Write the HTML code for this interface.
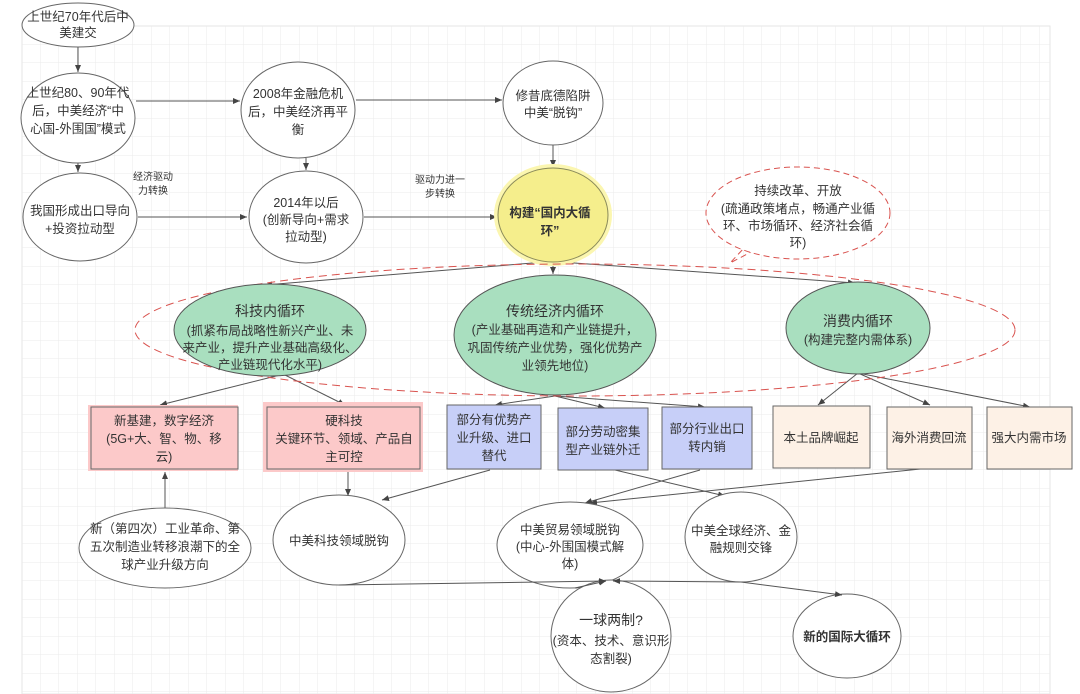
<!DOCTYPE html>
<html><head><meta charset="utf-8"><style>
html,body{margin:0;padding:0;background:#fff}
svg{display:block}
text{font-family:"Liberation Sans","Noto Sans CJK SC",sans-serif;font-size:12.5px;fill:#333;text-anchor:middle}
.s{font-size:10px}
.b{font-weight:bold}
.big{font-size:14px}
</style></head><body>
<svg width="1080" height="694" viewBox="0 0 1080 694" xmlns="http://www.w3.org/2000/svg">
<defs>
<pattern id="g" x="22" y="26" width="18.5" height="18.5" patternUnits="userSpaceOnUse">
<path d="M18.5 0V18.5M0 18.5H18.5" stroke="#ebebeb" stroke-width="1" fill="none"/>
</pattern>
<marker id="a" markerWidth="8" markerHeight="8" refX="7" refY="4" orient="auto" markerUnits="userSpaceOnUse">
<path d="M0,1 L7,4 L0,7 Z" fill="#444"/>
</marker>
</defs>
<rect x="22" y="26" width="1028" height="668" fill="url(#g)" stroke="#e6e6e6"/>

<g stroke="#555" stroke-width="1" fill="none" marker-end="url(#a)">
<path d="M78 47V72"/>
<path d="M136 101H240"/>
<path d="M356 100H502"/>
<path d="M78 163V172"/>
<path d="M306 158V170"/>
<path d="M553 145V167"/>
<path d="M138 217H247"/>
<path d="M364 217H497"/>
<path d="M553 262V274"/>
<path d="M545 262L265 285"/>
<path d="M560 262L855 283"/>
<path d="M280 375L160 405"/>
<path d="M285 375L345 405"/>
<path d="M555 396L495 405"/>
<path d="M555 396L605 408"/>
<path d="M555 396L705 407"/>
<path d="M858 373L818 405"/>
<path d="M858 373L930 405"/>
<path d="M858 373L1030 407"/>
<path d="M165 508V472"/>
<path d="M348 470V496"/>
<path d="M490 470L382 500"/>
<path d="M615 470L725 496"/>
<path d="M700 470L585 503"/>
<path d="M930 468L590 503"/>
</g>

<!-- top ellipses -->
<g fill="#fff" stroke="#666" stroke-width="1">
<ellipse cx="78" cy="25" rx="56" ry="22"/>
<ellipse cx="78" cy="118" rx="57" ry="45"/>
<ellipse cx="298" cy="110" rx="57" ry="48"/>
<ellipse cx="553" cy="103" rx="50" ry="42"/>
<ellipse cx="80" cy="217" rx="57" ry="44"/>
<ellipse cx="306" cy="217" rx="57" ry="46"/>
</g>
<ellipse cx="553" cy="215" rx="59" ry="51" fill="#fbf6b0"/>
<ellipse cx="553" cy="215" rx="55" ry="47" fill="#f5ee8c" stroke="#8a8a5a"/>

<text x="78" y="21">上世纪70年代后中</text><text x="78" y="37">美建交</text>
<text x="78" y="97">上世纪80、90年代</text><text x="78" y="115">后，中美经济“中</text><text x="78" y="133">心国-外围国”模式</text>
<text x="298" y="98">2008年金融危机</text><text x="298" y="116">后，中美经济再平</text><text x="298" y="134">衡</text>
<text x="553" y="100">修昔底德陷阱</text><text x="553" y="117">中美“脱钩”</text>
<text x="80" y="215">我国形成出口导向</text><text x="80" y="233">+投资拉动型</text>
<text x="306" y="207">2014年以后</text><text x="306" y="224">(创新导向+需求</text><text x="306" y="241">拉动型)</text>
<text x="550" y="217" class="b">构建“国内大循</text><text x="550" y="235" class="b">环”</text>
<text class="s" x="153" y="180">经济驱动</text><text class="s" x="153" y="194">力转换</text>
<text class="s" x="440" y="183">驱动力进一</text><text class="s" x="440" y="197">步转换</text>

<!-- callout -->
<path d="M755 250 L730 263 L745 247" fill="none" stroke="#d9534f" stroke-dasharray="6,4"/>
<ellipse cx="798" cy="213" rx="92" ry="46" fill="#fff" stroke="#d9534f" stroke-dasharray="6,4"/>
<text x="798" y="195">持续改革、开放</text><text x="798" y="213">(疏通政策堵点，畅通产业循</text><text x="798" y="230">环、市场循环、经济社会循</text><text x="798" y="247">环)</text>

<!-- big dashed ellipse -->
<ellipse cx="575" cy="330" rx="440" ry="66" fill="none" stroke="#d9534f" stroke-dasharray="8,5"/>

<!-- green -->
<g fill="#a9dfbf" stroke="#555">
<ellipse cx="270" cy="330" rx="96" ry="46"/>
<ellipse cx="555" cy="335" rx="101" ry="60"/>
<ellipse cx="858" cy="328" rx="72" ry="46"/>
</g>
<text x="270" y="316" class="big">科技内循环</text><text x="270" y="335">(抓紧布局战略性新兴产业、未</text><text x="270" y="352">来产业，提升产业基础高级化、</text><text x="270" y="369">产业链现代化水平)</text>
<text x="555" y="316" class="big">传统经济内循环</text><text x="555" y="334">(产业基础再造和产业链提升，</text><text x="555" y="352">巩固传统产业优势，强化优势产</text><text x="555" y="370">业领先地位)</text>
<text x="858" y="326" class="big">消费内循环</text><text x="858" y="344">(构建完整内需体系)</text>

<!-- boxes -->
<rect x="88" y="405" width="150" height="66" fill="#fcc9c9"/>
<rect x="91" y="407" width="147" height="62" fill="none" stroke="#666"/>
<rect x="263" y="402" width="160" height="70" fill="#fcc9c9"/>
<rect x="267" y="407" width="153" height="62" fill="none" stroke="#666"/>
<rect x="447" y="405" width="94" height="64" fill="#c7cff8" stroke="#666"/>
<rect x="558" y="408" width="90" height="62" fill="#c7cff8" stroke="#666"/>
<rect x="662" y="407" width="90" height="62" fill="#c7cff8" stroke="#666"/>
<rect x="773" y="406" width="97" height="62" fill="#fdf1e6" stroke="#666"/>
<rect x="887" y="407" width="85" height="62" fill="#fdf1e6" stroke="#666"/>
<rect x="987" y="407" width="85" height="62" fill="#fdf1e6" stroke="#666"/>
<text x="164" y="425">新基建，数字经济</text><text x="164" y="443">(5G+大、智、物、移</text><text x="164" y="461">云)</text>
<text x="344" y="425">硬科技</text><text x="344" y="443">关键环节、领域、产品自</text><text x="344" y="461">主可控</text>
<text x="494" y="424">部分有优势产</text><text x="494" y="442">业升级、进口</text><text x="494" y="460">替代</text>
<text x="603" y="436">部分劳动密集</text><text x="603" y="454">型产业链外迁</text>
<text x="707" y="433">部分行业出口</text><text x="707" y="451">转内销</text>
<text x="821" y="442">本土品牌崛起</text>
<text x="929" y="442">海外消费回流</text>
<text x="1029" y="442">强大内需市场</text>

<!-- bottom -->
<g fill="#fff" stroke="#666">
<ellipse cx="165" cy="548" rx="86" ry="40"/>
<ellipse cx="339" cy="540" rx="66" ry="45"/>
<ellipse cx="570" cy="545" rx="73" ry="43"/>
<ellipse cx="741" cy="537" rx="56" ry="45"/>
<ellipse cx="611" cy="636" rx="60" ry="56"/>
<ellipse cx="847" cy="636" rx="54" ry="42"/>
</g>
<g stroke="#555" stroke-width="1" fill="none" marker-end="url(#a)">
<path d="M339 585L606 581"/>
<path d="M575 588L606 581"/>
<path d="M741 582L613 581"/>
<path d="M741 582L842 595"/>
</g>
<text x="165" y="533">新（第四次）工业革命、第</text><text x="165" y="551">五次制造业转移浪潮下的全</text><text x="165" y="569">球产业升级方向</text>
<text x="339" y="545">中美科技领域脱钩</text>
<text x="570" y="534">中美贸易领域脱钩</text><text x="570" y="551">(中心-外围国模式解</text><text x="570" y="568">体)</text>
<text x="741" y="535">中美全球经济、金</text><text x="741" y="552">融规则交锋</text>
<text x="611" y="625" class="big">一球两制?</text><text x="611" y="645">(资本、技术、意识形</text><text x="611" y="663">态割裂)</text>
<text x="847" y="641" class="b">新的国际大循环</text>
</svg>
</body></html>
